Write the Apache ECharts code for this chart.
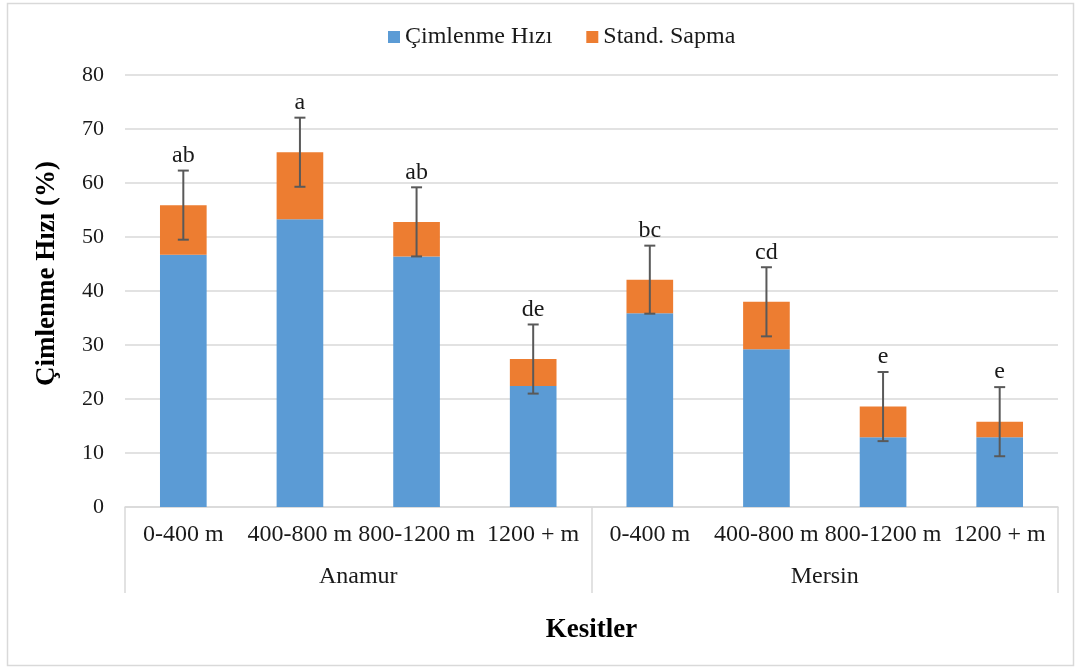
<!DOCTYPE html>
<html>
<head>
<meta charset="utf-8">
<script src="https://cdn.jsdelivr.net/npm/echarts@6/dist/echarts.min.js"></script>
<style>
html,body{margin:0;padding:0;background:#fff;}
#chart{width:1077px;height:667px;}
</style>
</head>
<body>
<div id="chart"></div>
<script>
const categories = ['0-400 m','400-800 m','800-1200 m','1200 + m','0-400 m','400-800 m','800-1200 m','1200 + m'];
const groups = ['Anamur','Mersin'];
const cimlenme = [46.7, 53.3, 46.4, 22.4, 35.9, 29.2, 12.9, 12.9];
const sapma = [9.2, 12.4, 6.4, 5.0, 6.2, 8.8, 5.7, 2.9];
const errors = [6.4, 6.4, 6.4, 6.4, 6.3, 6.4, 6.4, 6.4];
const letters = ['ab','a','ab','de','bc','cd','e','e'];
const yTicks = [0, 10, 20, 30, 40, 50, 60, 70, 80];

const FONT = '"Liberation Serif", "Times New Roman", serif';
const errData = categories.map((c, i) => [i, cimlenme[i] + sapma[i], errors[i], letters[i]]);

const chart = echarts.init(document.getElementById('chart'));
chart.setOption({
  animation: false,
  textStyle: {fontFamily: FONT},
  graphic: [{
    type: 'rect', left: 5, top: 1, silent: true,
    shape: {width: 1066, height: 662},
    style: {fill: 'none', stroke: '#d9d9d9', lineWidth: 1.5}
  }, {
    type: 'text', left: 34, top: 161, silent: true,
    rotation: Math.PI / 2,
    style: {text: 'Çimlenme Hızı (%)', font: 'bold 27px ' + FONT, fill: '#000'}
  }],
  legend: {
    data: ['Çimlenme Hızı', 'Stand. Sapma'],
    top: 20, left: 383,
    itemWidth: 12, itemHeight: 12, itemGap: 34,
    icon: 'rect',
    textStyle: {fontFamily: FONT, fontSize: 24, color: '#1a1a1a'}
  },
  grid: {left: 125, right: 19, top: 75, bottom: 160, containLabel: false},
  xAxis: [{
    type: 'category', data: categories, position: 'bottom',
    axisLine: {show: true, lineStyle: {color: '#d9d9d9', width: 1.5}},
    axisTick: {show: false},
    axisLabel: {interval: 0, margin: 16, fontFamily: FONT, fontSize: 24, color: '#1a1a1a'},
    splitLine: {show: false}
  }, {
    type: 'category', data: groups, position: 'bottom',
    axisLine: {show: false},
    axisTick: {show: true, length: 86, inside: false, lineStyle: {color: '#d9d9d9', width: 1.5}},
    axisLabel: {interval: 0, margin: 58, fontFamily: FONT, fontSize: 24, color: '#1a1a1a'},
    name: 'Kesitler', nameLocation: 'middle', nameGap: 110,
    nameTextStyle: {fontFamily: FONT, fontSize: 27, fontWeight: 'bold', color: '#000'}
  }],
  yAxis: {
    type: 'value', min: 0, max: 80, interval: 10,
    axisLine: {show: false}, axisTick: {show: false},
    axisLabel: {margin: 21, fontFamily: FONT, fontSize: 22, color: '#1a1a1a',
      formatter: v => yTicks.includes(v) ? String(v) : ''},
    splitLine: {lineStyle: {color: '#d9d9d9', width: 1.5}}
  },
  series: [{
    name: 'Çimlenme Hızı', type: 'bar', stack: 's', data: cimlenme,
    barWidth: '40%', itemStyle: {color: '#5b9bd5'}
  }, {
    name: 'Stand. Sapma', type: 'bar', stack: 's', data: sapma,
    barWidth: '40%', itemStyle: {color: '#ed7d31'}
  }, {
    name: 'err', type: 'custom', data: errData, z: 10,
    encode: {x: 0, y: 1},
    renderItem: function (params, api) {
      const x = api.value(0), c = api.value(1), e = api.value(2);
      const top = api.coord([x, c + e]);
      const bot = api.coord([x, c - e]);
      const hw = 5.5;
      const st = {stroke: '#595959', lineWidth: 2};
      return {type: 'group', children: [
        {type: 'line', shape: {x1: top[0], y1: top[1], x2: bot[0], y2: bot[1]}, style: st},
        {type: 'line', shape: {x1: top[0] - hw, y1: top[1], x2: top[0] + hw, y2: top[1]}, style: st},
        {type: 'line', shape: {x1: bot[0] - hw, y1: bot[1], x2: bot[0] + hw, y2: bot[1]}, style: st},
        {type: 'text', style: {text: letters[params.dataIndex], x: top[0], y: top[1] - 3,
          textAlign: 'center', textVerticalAlign: 'bottom',
          font: '24px ' + FONT, fill: '#1a1a1a'}}
      ]};
    }
  }]
});
</script>
</body>
</html>
